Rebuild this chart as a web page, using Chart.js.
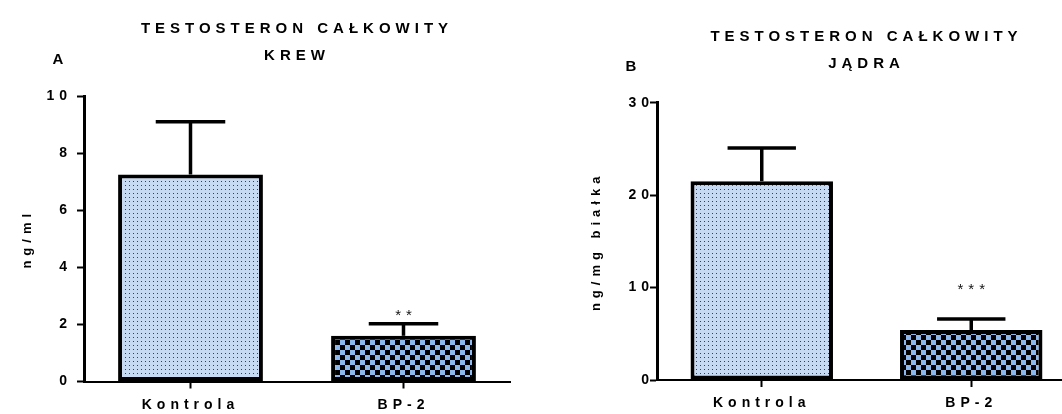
<!DOCTYPE html>
<html>
<head>
<meta charset="utf-8">
<script src="https://cdn.jsdelivr.net/npm/chart.js@4/dist/chart.umd.min.js"></script>
<style>
  html, body { margin: 0; padding: 0; background: #fff; overflow: hidden; width: 1062px; height: 414px; }
  canvas { position: absolute; top: 0; }
  #chartA { left: 0; }
  #chartB { left: 531px; }
</style>
</head>
<body>
<canvas id="chartA" width="531" height="414"></canvas>
<canvas id="chartB" width="545" height="414"></canvas>
<script>
// Groups on the x axis
const categories = ['Kontrola', 'BP-2'];

// Panel A: total testosterone in blood (ng/ml), mean and SD
const bloodMeans = [7.25, 1.6];
const bloodSD = [1.85, 0.42];
const bloodStars = ['', '**'];
const bloodStarLevel = [null, 2.15];
const bloodTicks = [0, 2, 4, 6, 8, 10];

// Panel B: total testosterone in testes (ng/mg protein), mean and SD
const testisMeans = [21.5, 5.4];
const testisSD = [3.6, 1.2];
const testisStars = ['', '***'];
const testisStarLevel = [null, 9.25];
const testisTicks = [0, 10, 20, 30];

const FONT = '"Liberation Sans", Arial, Helvetica, sans-serif';
Chart.defaults.font.family = FONT;
Chart.defaults.color = '#000';

function dotPattern(ctx) {
  const t = document.createElement('canvas');
  t.width = 4; t.height = 4;
  const g = t.getContext('2d');
  g.fillStyle = '#c6daf3';
  g.fillRect(0, 0, 4, 4);
  g.fillStyle = '#3a3f48';
  g.fillRect(1, 1, 1, 1);
  return ctx.createPattern(t, 'repeat');
}

function checkerPattern(ctx) {
  const s = 5;
  const t = document.createElement('canvas');
  t.width = 2 * s; t.height = 2 * s;
  const g = t.getContext('2d');
  g.fillStyle = '#8cb8ee';
  g.fillRect(0, 0, 2 * s, 2 * s);
  g.fillStyle = '#000';
  g.fillRect(s, 0, s, s);
  g.fillRect(0, s, s, s);
  return ctx.createPattern(t, 'repeat');
}

// Wide tracking of all chart text
const spacingPlugin = {
  id: 'spacing',
  beforeUpdate(chart) { chart.ctx.letterSpacing = '5px'; },
  beforeLayout(chart) { chart.ctx.letterSpacing = '5px'; },
  beforeDraw(chart) { chart.ctx.letterSpacing = '5px'; }
};

// Upper SD whiskers, significance marks and panel letter
const extrasPlugin = {
  id: 'extras',
  afterDatasetsDraw(chart, args, opts) {
    const ctx = chart.ctx;
    const y = chart.scales.y;
    const meta = chart.getDatasetMeta(0);
    ctx.save();
    ctx.strokeStyle = '#000';
    ctx.lineWidth = 3.5;
    ctx.lineCap = 'butt';
    meta.data.forEach((bar, i) => {
      const yTop = y.getPixelForValue(opts.means[i]);
      const yErr = y.getPixelForValue(opts.means[i] + opts.sd[i]);
      ctx.beginPath();
      ctx.moveTo(bar.x, yTop);
      ctx.lineTo(bar.x, yErr);
      ctx.stroke();
      const half = bar.width * 0.24;
      ctx.beginPath();
      ctx.moveTo(bar.x - half, yErr);
      ctx.lineTo(bar.x + half, yErr);
      ctx.stroke();
      if (opts.stars[i]) {
        ctx.font = '15px ' + FONT;
        ctx.letterSpacing = '5px';
        ctx.fillStyle = '#111';
        ctx.textAlign = 'left';
        ctx.textBaseline = 'alphabetic';
        const w = ctx.measureText(opts.stars[i]).width - 5;
        ctx.fillText(opts.stars[i], bar.x - w / 2, y.getPixelForValue(opts.starLevel[i]));
      }
    });
    ctx.font = 'bold 15px ' + FONT;
    ctx.letterSpacing = '0px';
    ctx.fillStyle = '#000';
    ctx.textAlign = 'center';
    ctx.textBaseline = 'middle';
    ctx.fillText(opts.letter, opts.letterX, opts.letterY);
    ctx.restore();
  }
};

function makePanel(id, cfg) {
  const canvas = document.getElementById(id);
  const ctx = canvas.getContext('2d');
  return new Chart(ctx, {
    type: 'bar',
    data: {
      labels: categories,
      datasets: [{
        data: cfg.means,
        backgroundColor: [dotPattern(ctx), checkerPattern(ctx)],
        borderColor: '#000',
        borderWidth: 4,
        borderSkipped: false,
        barPercentage: 0.68,
        categoryPercentage: 1
      }]
    },
    options: {
      responsive: false,
      animation: false,
      events: [],
      layout: { padding: { left: 0, right: cfg.padRight, top: 0, bottom: 0 } },
      plugins: {
        legend: { display: false },
        tooltip: { enabled: false },
        title: {
          display: true,
          fullSize: false,
          text: cfg.title,
          color: '#000',
          font: { size: 15, weight: 'bold', lineHeight: 1.8 },
          padding: { top: cfg.titleTop, bottom: cfg.titleBottom }
        },
        extras: {
          means: cfg.means, sd: cfg.sd, stars: cfg.stars, starLevel: cfg.starLevel,
          letter: cfg.letter, letterX: cfg.letterX, letterY: cfg.letterY
        }
      },
      scales: {
        x: {
          type: 'category',
          afterFit(scale) { scale.height = cfg.xHeight; },
          grid: {
            offset: false, drawOnChartArea: false, drawTicks: true,
            tickLength: 7, tickWidth: 2, tickColor: '#000'
          },
          border: { display: true, color: '#000', width: 2 },
          ticks: { font: { size: 14, weight: 'bold' }, color: '#000', padding: 8 }
        },
        y: {
          min: cfg.ticks[0],
          max: cfg.ticks[cfg.ticks.length - 1],
          afterFit(scale) { scale.width = cfg.yWidth; },
          afterBuildTicks(scale) { scale.ticks = cfg.ticks.map(v => ({ value: v })); },
          grid: {
            drawOnChartArea: false, drawTicks: true,
            tickLength: 7, tickWidth: 2, tickColor: '#000'
          },
          border: { display: true, color: '#000', width: 3 },
          ticks: { font: { size: 14, weight: 'bold' }, color: '#000', padding: cfg.tickPad },
          title: {
            display: true, text: cfg.yTitle, color: '#000',
            font: { size: 13, weight: 'bold' },
            padding: { top: cfg.yTitlePad, bottom: 0 }
          }
        }
      }
    },
    plugins: [spacingPlugin, extrasPlugin]
  });
}

makePanel('chartA', {
  means: bloodMeans, sd: bloodSD, stars: bloodStars, starLevel: bloodStarLevel, ticks: bloodTicks,
  title: ['TESTOSTERON CAŁKOWITY', 'KREW'], yTitle: 'ng/ml',
  letter: 'A', letterX: 58, letterY: 60,
  padRight: 21, yWidth: 84, xHeight: 32.5, titleTop: 15.5, titleBottom: 26.5,
  tickPad: 5, yTitlePad: 20
});

makePanel('chartB', {
  means: testisMeans, sd: testisSD, stars: testisStars, starLevel: testisStarLevel, ticks: testisTicks,
  title: ['TESTOSTERON CAŁKOWITY', 'JĄDRA'], yTitle: 'ng/mg białka',
  letter: 'B', letterX: 100, letterY: 67,
  padRight: 0, yWidth: 126, xHeight: 34, titleTop: 23, titleBottom: 25.7,
  tickPad: -4, yTitlePad: 58
});
</script>
</body>
</html>
